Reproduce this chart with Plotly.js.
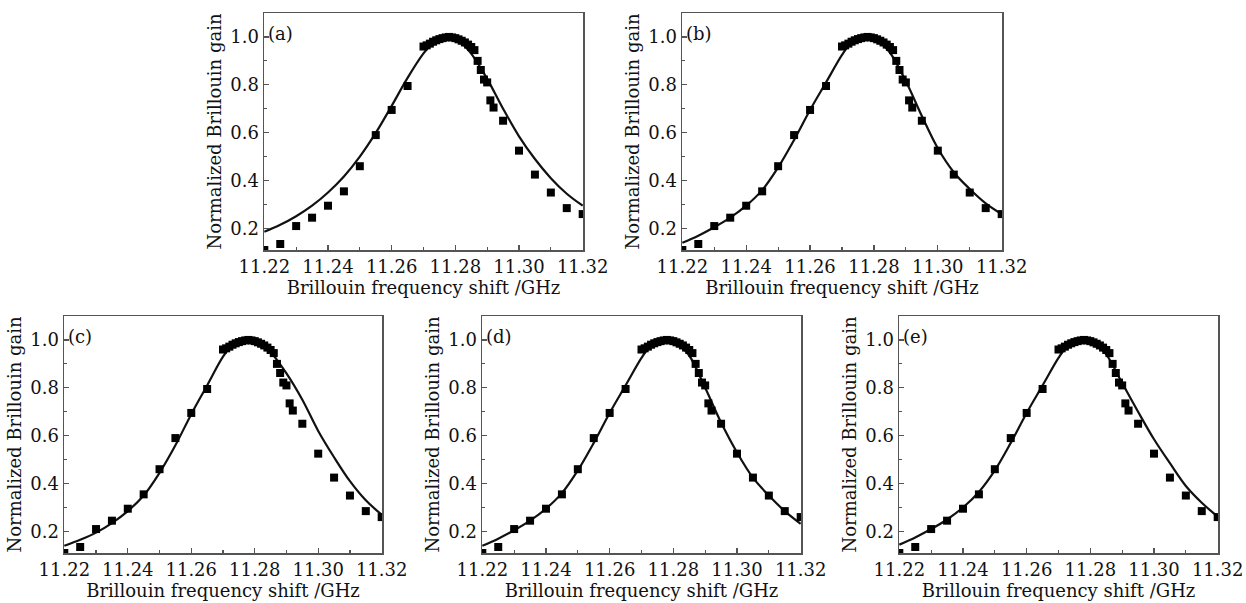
<!DOCTYPE html>
<html>
<head>
<meta charset="utf-8">
<script src="https://cdn.plot.ly/plotly-3.0.1.min.js"></script>
<style>html,body{margin:0;padding:0;background:#fff;}#chart{width:1246px;height:603px;}</style>
</head>
<body>
<div id="chart"></div>
<script>
// Measured data (same in all panels)
const dataX = [11.22, 11.225, 11.23, 11.235, 11.24, 11.245, 11.25, 11.255, 11.26, 11.265, 11.27,
  11.271, 11.272, 11.273, 11.274, 11.275, 11.276, 11.277, 11.278, 11.279, 11.280, 11.281, 11.282, 11.283, 11.284, 11.285, 11.286,
  11.287, 11.288, 11.289, 11.290, 11.291, 11.292, 11.295, 11.30, 11.305, 11.31, 11.315, 11.32];
const dataY = [0.11, 0.135, 0.21, 0.245, 0.295, 0.355, 0.46, 0.59, 0.695, 0.795, 0.96,
  0.965, 0.972, 0.98, 0.986, 0.991, 0.995, 0.998, 1.0, 0.998, 0.995, 0.99, 0.984, 0.977, 0.968, 0.958, 0.945,
  0.9, 0.862, 0.822, 0.81, 0.735, 0.705, 0.65, 0.525, 0.425, 0.35, 0.285, 0.26];

// Fitted curves
const fitX = [11.22, 11.225, 11.23, 11.235, 11.24, 11.245, 11.25, 11.255, 11.26, 11.265, 11.27, 11.2725, 11.275, 11.2775,
  11.28, 11.2825, 11.285, 11.29, 11.295, 11.30, 11.305, 11.31, 11.315, 11.32];
const fitA = [0.186, 0.215, 0.251, 0.295, 0.350, 0.417, 0.500, 0.599, 0.712, 0.829, 0.931, 0.969, 0.992, 1.0,
  0.992, 0.968, 0.93, 0.825, 0.70, 0.585, 0.49, 0.41, 0.345, 0.295];
const fitB = [0.14, 0.17, 0.205, 0.245, 0.295, 0.36, 0.455, 0.57, 0.695, 0.81, 0.925, 0.97, 0.993, 1.0,
  0.993, 0.97, 0.935, 0.815, 0.67, 0.535, 0.435, 0.365, 0.305, 0.26];
const fitC = [0.14, 0.165, 0.195, 0.235, 0.285, 0.35, 0.445, 0.56, 0.69, 0.81, 0.93, 0.972, 0.994, 1.0,
  0.995, 0.978, 0.95, 0.86, 0.75, 0.62, 0.51, 0.41, 0.33, 0.27];
const fitD = [0.14, 0.17, 0.205, 0.245, 0.295, 0.36, 0.455, 0.57, 0.695, 0.81, 0.925, 0.97, 0.993, 1.0,
  0.993, 0.97, 0.935, 0.80, 0.655, 0.53, 0.425, 0.35, 0.285, 0.232];
const fitE = [0.145, 0.175, 0.21, 0.25, 0.30, 0.365, 0.455, 0.57, 0.695, 0.81, 0.925, 0.97, 0.993, 1.0,
  0.994, 0.972, 0.94, 0.82, 0.70, 0.585, 0.485, 0.39, 0.32, 0.262];

const panelLabels = ['(a)', '(b)', '(c)', '(d)', '(e)'];
const fits = [fitA, fitB, fitC, fitD, fitE];
const xTicks = [11.22, 11.24, 11.26, 11.28, 11.30, 11.32];
const yTicks = [0.2, 0.4, 0.6, 0.8, 1.0];
const xTitle = 'Brillouin frequency shift /GHz';
const yTitle = 'Normalized Brillouin gain';

const W = 1246, H = 603;
// panel boxes in pixels: [left, right, top, bottom]
const boxes = [[264, 583, 13, 250], [682, 1002, 13, 250], [64, 382, 316, 553], [482, 801, 316, 553], [899, 1218, 316, 553]];

const FONT = 'DejaVu Serif, Liberation Serif, serif';
const TXT = '#111';
const traces = [];
const layout = {
  width: W, height: H, margin: {l: 0, r: 0, t: 0, b: 0},
  paper_bgcolor: '#fff', plot_bgcolor: '#fff', showlegend: false,
  font: {family: FONT, color: TXT}, annotations: []
};

boxes.forEach((b, i) => {
  const n = i + 1;
  const xa = n === 1 ? 'xaxis' : 'xaxis' + n;
  const ya = n === 1 ? 'yaxis' : 'yaxis' + n;
  const xr = n === 1 ? 'x' : 'x' + n;
  const yr = n === 1 ? 'y' : 'y' + n;
  traces.push({x: fitX, y: fits[i], xaxis: xr, yaxis: yr, mode: 'lines', type: 'scatter',
    line: {color: '#111', width: 2.2, shape: 'spline', smoothing: 1}, hoverinfo: 'skip'});
  traces.push({x: dataX, y: dataY, xaxis: xr, yaxis: yr, mode: 'markers', type: 'scatter',
    marker: {symbol: 'square', size: 8, color: '#000'}});
  layout[xa] = {
    domain: [b[0] / W, b[1] / W], anchor: yr,
    range: [11.2199, 11.3201], tickvals: xTicks, tickformat: '.2f',
    ticks: 'inside', ticklen: 5, tickwidth: 1.2, tickcolor: '#555',
    minor: {dtick: 0.01, tick0: 11.22, ticks: 'inside', ticklen: 3, tickcolor: '#555'},
    showline: true, mirror: true, linecolor: '#555', linewidth: 1.5,
    showgrid: false, zeroline: false,
    tickfont: {family: FONT, size: 18, color: TXT},
    title: {text: xTitle, font: {family: FONT, size: 18, color: TXT}, standoff: 2}
  };
  layout[ya] = {
    domain: [1 - b[3] / H, 1 - b[2] / H], anchor: xr,
    range: [0.11, 1.10], tickvals: yTicks, tickformat: '.1f',
    ticks: 'inside', ticklen: 5, tickwidth: 1.2, tickcolor: '#555',
    minor: {dtick: 0.1, tick0: 0, ticks: 'inside', ticklen: 3, tickcolor: '#555'},
    showline: true, mirror: true, linecolor: '#555', linewidth: 1.5,
    showgrid: false, zeroline: false,
    tickfont: {family: FONT, size: 18, color: TXT},
    title: {text: yTitle, font: {family: FONT, size: 18, color: TXT}, standoff: 4}
  };
  layout.annotations.push({text: panelLabels[i], xref: xr + ' domain', yref: yr + ' domain',
    x: 0.005, y: 0.915, xanchor: 'left', yanchor: 'middle', showarrow: false,
    font: {family: FONT, size: 18, color: TXT}});
});

Plotly.newPlot('chart', traces, layout, {staticPlot: true});
</script>
</body>
</html>
